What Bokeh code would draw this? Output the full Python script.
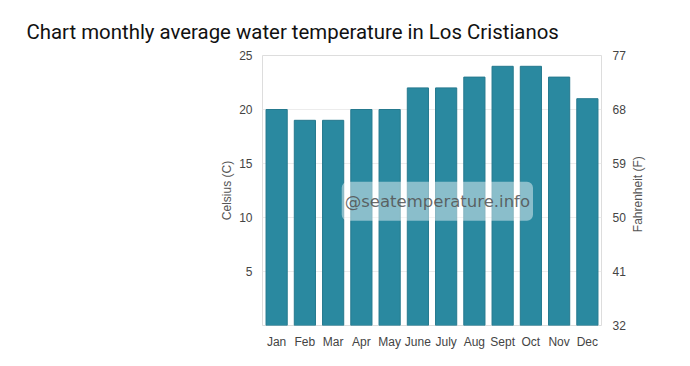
import math
from bokeh.plotting import figure
from bokeh.models import Range1d, LinearAxis, FixedTicker, Label, Title
from bokeh.layouts import row
from bokeh.embed import file_html
from bokeh.resources import INLINE

months = ["Jan", "Feb", "Mar", "Apr", "May", "June", "July", "Aug", "Sept", "Oct", "Nov", "Dec"]
temps_c = [20, 19, 19, 20, 20, 22, 22, 23, 24, 24, 23, 21]
c_ticks = [5, 10, 15, 20, 25]
f_ticks = [32, 41, 50, 59, 68, 77]

p = figure(x_range=months, y_range=Range1d(0, 25), width=630, height=366,
           output_backend="svg", toolbar_location=None,
           min_border_left=262, min_border_right=29, min_border_top=55, min_border_bottom=41)
p.title = Title(text="Chart monthly average water temperature in Los Cristianos",
                text_font="Roboto", text_font_size="20.4px", text_font_style="normal",
                text_color="#111111", align="left", offset=-236, standoff=23)

p.vbar(x=months, top=temps_c, width=0.75, fill_color="#2a89a0", line_color="#25798e", line_width=1)

p.extra_y_ranges = {"f": Range1d(32, 77)}
ax_r = LinearAxis(y_range_name="f", ticker=FixedTicker(ticks=f_ticks))
p.add_layout(ax_r, "right")

p.yaxis[0].ticker = FixedTicker(ticks=c_ticks)
p.yaxis[0].axis_label = "Celsius (C)"

for ax in p.yaxis + p.xaxis:
    ax.axis_line_color = None
    ax.major_tick_line_color = None
    ax.minor_tick_line_color = None
    ax.major_label_text_font = "Liberation Sans"
    ax.major_label_text_font_size = "12px"
    ax.major_label_text_color = "#444444"
    ax.axis_label_text_font = "Liberation Sans"
    ax.axis_label_text_font_size = "12px"
    ax.axis_label_text_font_style = "normal"
    ax.axis_label_text_color = "#555555"

p.yaxis[0].major_label_standoff = 4
p.yaxis[0].axis_label_standoff = 2
ax_r.major_label_standoff = 5
p.xaxis[0].major_label_standoff = 3

p.xgrid.grid_line_color = None
p.ygrid.grid_line_color = "#ececec"
p.ygrid.ticker = FixedTicker(ticks=c_ticks)
p.outline_line_color = "#dddddd"
p.background_fill_color = "white"
p.border_fill_color = "white"

wm = Label(x=6.19, y=11.5, text="@seatemperature.info", text_align="center", text_baseline="middle",
           text_font="DejaVu Sans", text_font_size="16.5px", text_color="#505050", text_alpha=0.85,
           background_fill_color="white", background_fill_alpha=0.45, padding=(3, 10), border_radius=6)
p.add_layout(wm)

# narrow side panel carrying the Fahrenheit axis title (reads bottom-to-top)
p2 = figure(width=60, height=366, x_range=Range1d(0, 60), y_range=Range1d(0, 366),
            x_axis_type=None, y_axis_type=None, output_backend="svg", toolbar_location=None,
            min_border=0)
p2.grid.visible = False
p2.outline_line_color = None
p2.background_fill_color = "white"
p2.border_fill_color = "white"
p2.add_layout(Label(x=7, y=178, text="Fahrenheit (F)", angle=math.pi / 2,
                    text_align="center", text_baseline="middle",
                    text_font="Liberation Sans", text_font_size="12px", text_color="#555555"))

layout = row(p, p2, spacing=0)
open("out.html", "w").write(file_html(layout, INLINE))
